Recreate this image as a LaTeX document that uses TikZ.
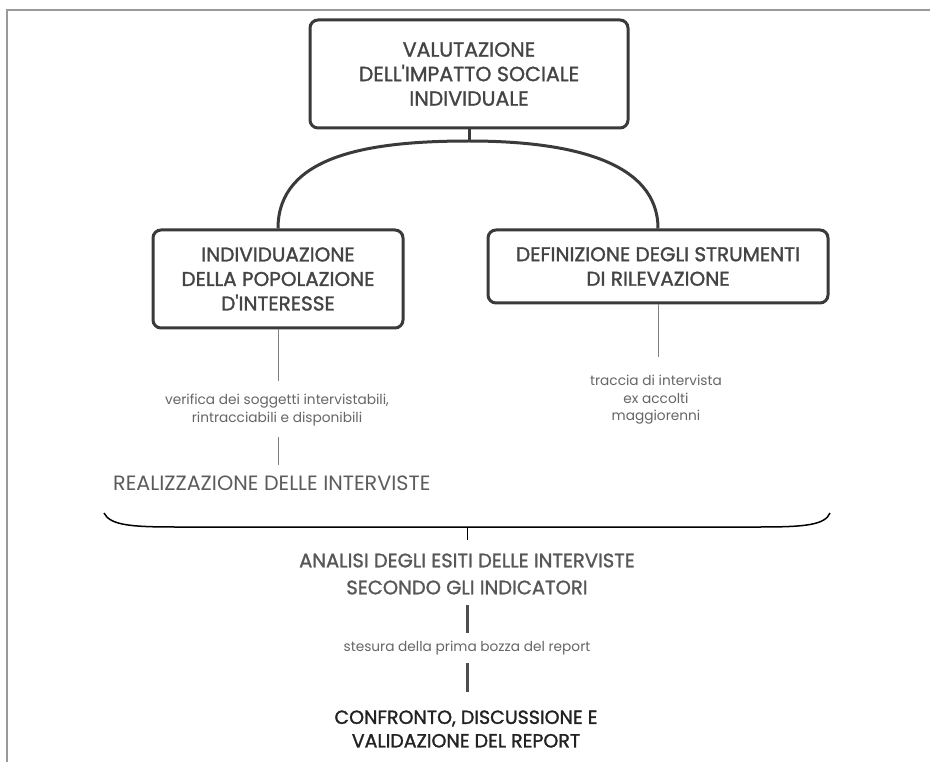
\documentclass[tikz,border=0pt]{standalone}
\usepackage{fontspec}
\setmainfont{Poppins}
\newfontfamily\medfont{Poppins}[FakeBold=1.2]
\newfontfamily\semifont{Poppins}[FakeBold=1.4]
\definecolor{boxline}{HTML}{3A3A3A}
\definecolor{boxtext}{HTML}{444444}
\definecolor{thin}{HTML}{808080}
\definecolor{lbl}{HTML}{666666}
\definecolor{frame}{HTML}{9A9A9A}
\definecolor{dark}{HTML}{222222}
\tikzset{
  box/.style={draw=boxline, line width=3pt, rounded corners=8pt, text=boxtext, align=center, inner sep=0pt,
    font={\semifont\fontsize{20}{24.5}\selectfont}},
  conn/.style={draw=boxline, line width=3pt},
  thinline/.style={draw=thin, line width=1pt},
  thickline/.style={draw=boxline!90, line width=3pt},
  lab/.style={text=lbl, align=center, inner sep=0pt, font={\fontsize{13.7}{17.5}\selectfont}},
  head/.style={text=boxtext!90, align=center, inner sep=0pt, font={\medfont\fontsize{19.5}{27}\selectfont}},
}
\begin{document}
\begin{tikzpicture}[x=1pt,y=-1pt]
\useasboundingbox (0,0) rectangle (930,762);
\fill[white] (0,0) rectangle (930,762);
\draw[frame, line width=2pt] (7,762) -- (7,10) -- (930,10);

\node[box, minimum width=318pt, minimum height=108pt, font={\medfont\fontsize{20.5}{24.5}\selectfont}] (top) at (469,74)
  {VALUTAZIONE\\DELL'IMPATTO SOCIALE\\INDIVIDUALE};
\node[box, minimum width=250pt, minimum height=98pt] (L) at (278,279)
  {INDIVIDUAZIONE\\DELLA POPOLAZIONE\\D'INTERESSE};
\node[box, minimum width=340pt, minimum height=73pt] (R) at (658,266.5)
  {DEFINIZIONE DEGLI STRUMENTI\\DI RILEVAZIONE};

\coordinate (fork) at (469,141);
\draw[conn] (top.south) -- (fork);
\draw[conn] (fork) .. controls (370,141) and (278,155) .. (L.north);
\draw[conn] (fork) .. controls (572,141) and (658,162) .. (R.north);

% left branch
\node[lab] (v) at (277,410) {verifica dei soggetti intervistabili,\\rintracciabili e disponibili};
\coordinate (l1) at (278,381);
\draw[thinline] (L.south) -- (l1);
\node[anchor=west, inner sep=0pt, text=lbl!90!black, font={\fontsize{20.7}{24}\selectfont}] (real) at (113,483) {REALIZZAZIONE DELLE INTERVISTE};
\coordinate (l2a) at (278,437);
\coordinate (l2b) at (278,465);
\draw[thinline] (l2a) -- (l2b);

% right branch
\node[lab] (t) at (656,400) {traccia di intervista\\ex accolti\\maggiorenni};
\coordinate (r1) at (658,357);
\draw[thinline] (R.south) -- (r1);

% brace
\coordinate (bl) at (104,513);
\coordinate (br) at (830,513);
\coordinate (bm) at (467,527);
\coordinate (bt) at (467,540);
\draw[thin, line width=1.5pt] (bl) .. controls (110,525) and (130,527) .. (175,527) -- (760,527) .. controls (805,527) and (825,525) .. (br);
\draw[thin, line width=1pt] (bm) -- (bt);

\node[head] (an) at (467,574) {ANALISI DEGLI ESITI DELLE INTERVISTE\\SECONDO GLI INDICATORI};

\coordinate (s1a) at (467,605);
\coordinate (s1b) at (467,633);
\draw[thickline] (s1a) -- (s1b);
\node[lab] (st) at (467,648) {stesura della prima bozza del report};
\coordinate (s2a) at (467,663);
\coordinate (s2b) at (467,692);
\draw[thickline] (s2a) -- (s2b);

\node[text=dark, align=center, inner sep=0pt, font={\semifont\fontsize{19}{23.5}\selectfont}] (conf) at (466,729)
  {CONFRONTO, DISCUSSIONE E\\VALIDAZIONE DEL REPORT};
\end{tikzpicture}
\end{document}
